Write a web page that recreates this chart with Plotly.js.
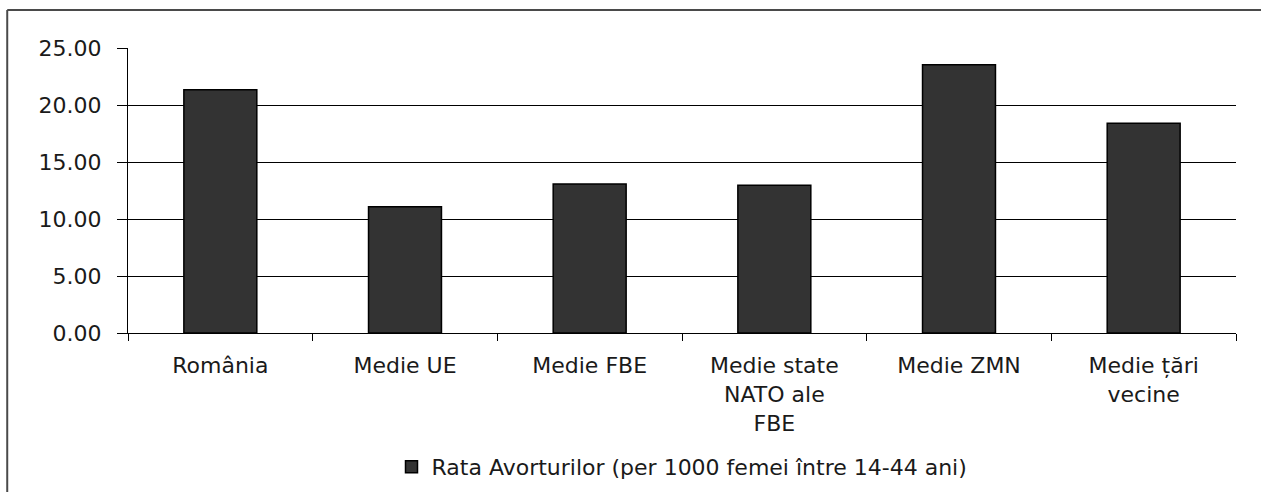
<!DOCTYPE html>
<html>
<head>
<meta charset="utf-8">
<script src="https://cdn.plot.ly/plotly-3.0.1.min.js"></script>
<style>
  html, body { margin: 0; padding: 0; background: #fff; }
  #chart { width: 1261px; height: 492px; }
</style>
</head>
<body>
<div id="chart"></div>
<script>
const categories = [
  "România",
  "Medie UE",
  "Medie FBE",
  "Medie state<br>NATO ale<br>FBE",
  "Medie ZMN",
  "Medie țări<br>vecine"
];
const rataAvorturilor = [21.33, 11.08, 13.07, 12.96, 23.53, 18.41];
const seriesName = "Rata Avorturilor (per 1000 femei între 14-44 ani)";
const yTicks = [0, 5, 10, 15, 20, 25];

const FONT = "DejaVu Sans, Verdana, sans-serif";
const FS = 22;

const trace = {
  type: "bar",
  x: categories,
  y: rataAvorturilor,
  name: seriesName,
  showlegend: true,
  marker: { color: "#333333", line: { color: "#000000", width: 1.5 } },
  hoverinfo: "x+y"
};

const layout = {
  width: 1261,
  height: 492,
  margin: { l: 128, r: 25, t: 48, b: 159, autoexpand: false },
  paper_bgcolor: "#ffffff",
  plot_bgcolor: "#ffffff",
  font: { family: FONT, size: FS, color: "#1a1a1a" },
  bargap: 0.605,
  showlegend: true,
  legend: {
    orientation: "h",
    x: 0.5, xanchor: "center",
    y: -0.47, yanchor: "middle",
    font: { family: FONT, size: FS, color: "#1a1a1a" },
    bgcolor: "rgba(0,0,0,0)"
  },
  xaxis: {
    type: "category",
    automargin: false,
    showline: true, linecolor: "#000", linewidth: 1,
    ticks: "outside", tickson: "boundaries", ticklen: 7, tickcolor: "#000", tickwidth: 1,
    showgrid: false, zeroline: false,
    tickfont: { family: FONT, size: FS, color: "#1a1a1a" },
    ticklabelstandoff: 13
  },
  yaxis: {
    range: [0, 25],
    automargin: false,
    tickvals: yTicks,
    tickformat: ".2f",
    showline: true, linecolor: "#000", linewidth: 1,
    ticks: "outside", ticklen: 10, tickcolor: "#000", tickwidth: 1,
    showgrid: true, gridcolor: "#000", gridwidth: 1,
    zeroline: false,
    tickfont: { family: FONT, size: FS, color: "#1a1a1a" },
    ticklabelstandoff: 11
  },
  shapes: [
    { type: "line", xref: "paper", yref: "paper", x0: -0.109, x1: 1.03, y0: 1.1333, y1: 1.1333,
      line: { color: "#4a4a4a", width: 2 } },
    { type: "line", xref: "paper", yref: "paper", x0: -0.109, x1: -0.109, y0: 1.1333, y1: -0.6,
      line: { color: "#4a4a4a", width: 2 } }
  ]
};

Plotly.newPlot("chart", [trace], layout, { displayModeBar: false });
</script>
</body>
</html>
